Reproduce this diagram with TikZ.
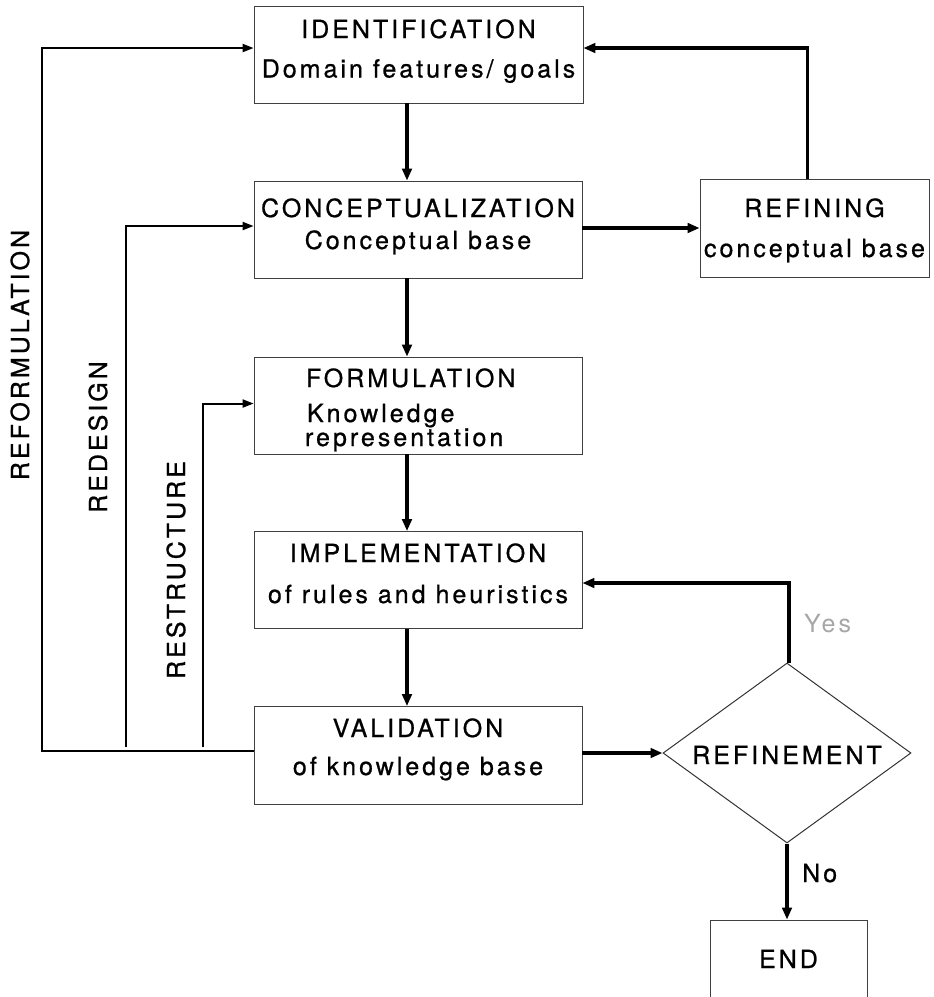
\documentclass[tikz,border=0pt]{standalone}
\usepackage{fontspec}
\setmainfont[LetterSpace=12,FakeBold=0.8]{TeX Gyre Heros}
\usetikzlibrary{arrows.meta,shapes.geometric}
% one text line, centred on the box centre, its baseline lifted by #1
\newcommand\placec[2]{\makebox[0pt]{\raisebox{#1}[0pt][0pt]{#2}}}
% one text line starting #1 from the box centre, its baseline lifted by #2
\newcommand\placel[3]{\makebox[0pt][l]{\hspace*{#1}\raisebox{#2}[0pt][0pt]{#3}}}
\begin{document}
\begin{tikzpicture}[x=1pt,y=-1pt,
  stage/.style={draw=black!75, line width=0.8pt, minimum width=328pt,
    minimum height=97pt, inner sep=0pt, font=\fontsize{25}{30}\selectfont},
  flow/.style={line width=3.4pt, -{Triangle[length=12pt,width=9.5pt]}},
  loopback/.style={line width=2pt, -{Triangle[length=11pt,width=8pt]}},
  sidelabel/.style={font=\fontsize{25}{28}\selectfont, rotate=90},
  plain/.style={font=\fontsize{25}{28}\selectfont, inner sep=0pt}]
\useasboundingbox (0,0) rectangle (934,997);

% main stages
\node[stage, minimum width=329pt] (ident) at (418.5,54.5)
  {\placec{16.5pt}{IDENTIFICATION}\placec{-23pt}{Domain features/ goals}};
\node[stage] (concept) at (418,229.5)
  {\placec{12.5pt}{CONCEPTUALIZATION}\placec{-19.5pt}{Conceptual base}};
\node[stage] (form) at (418,405.5)
  {\placel{-112pt}{18.5pt}{FORMULATION}\placel{-111pt}{-16.5pt}{Knowledge}%
   \placel{-113pt}{-40.5pt}{representation}};
\node[stage] (impl) at (418,580)
  {\placec{18pt}{IMPLEMENTATION}\placec{-23pt}{of rules and heuristics}};
\node[stage, minimum height=98pt] (valid) at (418,755.5)
  {\placec{18.5pt}{VALIDATION}\placec{-19.5pt}{of knowledge base}};

% side branch, decision and end
\node[stage, minimum width=229pt, minimum height=98pt] (refining) at (814.5,228)
  {\placec{11pt}{REFINING}\placec{-29pt}{conceptual base}};
\node[draw=black!80, line width=1pt, diamond, minimum width=248pt,
  minimum height=180pt, inner sep=0pt, font=\fontsize{25}{28}\selectfont]
  (decide) at (787,753) {\placec{-11pt}{REFINEMENT}};
\node[stage, minimum width=157pt, minimum height=80pt] (finish) at (788.5,960)
  {\placec{-8pt}{END}};

% vertical feedback labels and branch labels
\node[sidelabel] (lreform) at (20,355)  {REFORMULATION};
\node[sidelabel] (lredes)  at (98,437)  {REDESIGN};
\node[sidelabel] (lrestr)  at (176,570) {RESTRUCTURE};
\node[plain, anchor=base west, text=black!35,
  font=\fontsize{25}{28}\selectfont\addfontfeature{FakeBold=0}]
  (lyes) at (804,632) {Yes};
\node[plain, anchor=base west] (lno) at (802,882) {No};

% downward flow, all on one vertical
\coordinate (xflow) at (407,0);
\draw[flow] (ident.south -| xflow)   -- (concept.north -| xflow);
\draw[flow] (concept.south -| xflow) -- (form.north -| xflow);
\draw[flow] (form.south -| xflow)    -- (impl.north -| xflow);
\draw[flow] (impl.south -| xflow)    -- (valid.north -| xflow);

% refining loop
\coordinate (conceptr) at ([yshift=1.5pt]concept.east);
\draw[flow] (conceptr) -- (conceptr -| refining.west);
\coordinate (identin) at ([yshift=6.5pt]ident.east);
\draw[flow] ([xshift=-7pt]refining.north) |- (identin);

% decision
\coordinate (validout) at ([yshift=2.5pt]valid.east);
\draw[flow] (validout) -- (validout -| decide.west);
\coordinate (implin) at ([yshift=-3pt]impl.east);
\draw[flow] ([xshift=2pt]decide.north) |- (implin);
\draw[flow] (decide.south) -- (decide.south |- finish.north);

% feedback loops on the left
\coordinate (validin) at ([yshift=4.5pt]valid.west);
\coordinate (xreform) at (42,0);
\coordinate (xredes)  at (126,0);
\coordinate (xrestr)  at (203,0);
\coordinate (identl)   at ([yshift=6.5pt]ident.west);
\coordinate (conceptl) at ([yshift=3.5pt]concept.west);
\coordinate (forml)    at ([yshift=2pt]form.west);
\draw[loopback] (validin) -| (xreform |- identl) -- (identl);
\draw[loopback] ([yshift=4pt]validin -| xredes) |- (conceptl);
\draw[loopback] ([yshift=4pt]validin -| xrestr) |- (forml);
\end{tikzpicture}
\end{document}
